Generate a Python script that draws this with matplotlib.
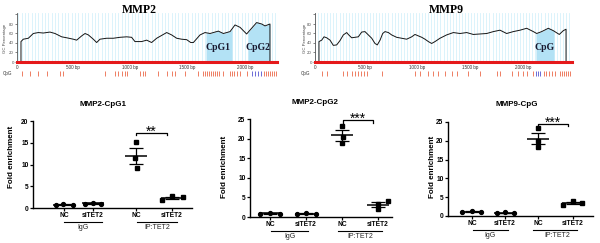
import numpy as np
import matplotlib
matplotlib.use("Agg")
import matplotlib.pyplot as plt
from matplotlib.lines import Line2D

W, H = 600, 243

# ---------------- data: GC content tracks ----------------
mmp2_bp = [52, 72, 116, 159, 203, 246, 304, 348, 406, 449, 507, 536, 580, 609, 638, 681, 710, 739, 797, 855,
           913, 971, 1014, 1043, 1101, 1145, 1188, 1232, 1290, 1319, 1362, 1406, 1449, 1493, 1528, 1551, 1609,
           1652, 1696, 1768, 1812, 1870, 1913, 1957, 2014, 2043, 2101, 2145, 2174, 2217]
mmp2_gc = [43, 48, 50, 60, 62, 61, 63, 60, 53, 51, 48, 46, 55, 60, 57, 48, 41, 48, 50, 50,
           52, 53, 52, 43, 43, 46, 41, 50, 58, 62, 57, 50, 48, 47, 41, 41, 57,
           62, 60, 65, 60, 64, 78, 73, 59, 67, 83, 80, 76, 80]
mmp2_islands = [(1661, 1887), (2026, 2217)]
mmp2_island_names = ["CpG1", "CpG2"]
mmp2_cpg = [61, 130, 200, 278, 391, 417, 783, 870, 896, 930, 957, 974, 1087, 1113, 1130, 1243, 1322, 1365,
            1391, 1478, 1591, 1635, 1652, 1670, 1687, 1704, 1722, 1739, 1757, 1774, 1809, 1870, 1887, 1904,
            1930, 1957, 2017, 2061, 2087, 2113, 2139, 2165, 2183, 2200, 2217, 2235, 2252, 2270]

mmp9_bp = [66, 92, 114, 139, 171, 202, 234, 265, 297, 329, 344, 376, 408, 439, 471, 502, 534, 566, 597, 619,
           645, 670, 692, 724, 755, 802, 850, 897, 945, 976, 1008, 1040, 1071, 1103, 1134, 1166, 1213, 1276,
           1340, 1403, 1466, 1529, 1592, 1656, 1719, 1782, 1845, 1908, 1972, 2035, 2098, 2130, 2177, 2240,
           2287, 2344, 2382, 2408]
mmp9_gc = [43, 46, 53, 51, 46, 35, 36, 45, 57, 62, 58, 51, 52, 53, 63, 64, 57, 50, 39, 36,
           46, 60, 64, 62, 57, 52, 50, 48, 53, 58, 55, 52, 48, 43, 39, 43, 50, 57,
           62, 60, 62, 58, 59, 60, 64, 67, 60, 64, 67, 71, 64, 60, 64, 71,
           66, 58, 66, 69]
mmp9_islands = [(2123, 2294)]
mmp9_island_names = ["CpG"]
mmp9_cpg = [95, 142, 294, 332, 379, 408, 436, 464, 493, 521, 664, 976, 1024, 1100, 1147, 1194, 1261, 1327,
            1374, 1479, 1592, 1754, 1782, 1896, 1953, 2000, 2038, 2095, 2123, 2142, 2161, 2199, 2218, 2246,
            2275, 2303, 2351, 2370, 2389, 2408, 2427, 2445]

bp_ticks = [500, 1000, 1500, 2000]
bp_labels = ["500 bp", "1000 bp", "1500 bp", "2000 bp"]

# ---------------- data: ChIP fold enrichment ----------------
cat_labels = ["NC", "siTET2", "NC", "siTET2"]
group_labels = ["IgG", "IP:TET2"]

cpg1_igg_nc = [0.77, 0.85, 0.77]
cpg1_igg_si = [1.00, 1.15, 1.00]
cpg1_ip_nc = [15.2, 11.4, 9.2]
cpg1_ip_si = [1.9, 2.7, 2.5]

cpg2_igg_nc = [0.86, 1.03, 0.86]
cpg2_igg_si = [0.68, 1.03, 0.68]
cpg2_ip_nc = [23.3, 20.3, 18.8]
cpg2_ip_si = [3.4, 2.1, 4.0]

mmp9_igg_nc = [0.97, 1.33, 1.06]
mmp9_igg_si = [0.71, 0.97, 0.80]
mmp9_ip_nc = [23.4, 19.9, 18.4]
mmp9_ip_si = [2.9, 4.0, 3.4]

titles = ["MMP2-CpG1", "MMP2-CpG2", "MMP9-CpG"]
sig_marks = ["**", "***", "***"]
y_max = [20, 25, 25]

# ---------------- drawing ----------------
plt.rcParams['font.family'] = ['Liberation Sans', 'DejaVu Sans']
fig = plt.figure(figsize=(6, 2.43), dpi=100)


def px_axes(l, t, r, b):
    return fig.add_axes([l / W, 1 - b / H, (r - l) / W, (b - t) / H])


def ftext(x, y, s, **kw):
    return fig.text(x / W, 1 - y / H, s, **kw)


def fline(x1, x2, y, lw=0.8, color='black'):
    fig.add_artist(Line2D([x1 / W, x2 / W], [1 - y / H, 1 - y / H], transform=fig.transFigure,
                          lw=lw, color=color))


def gc_panel(l, t, r, b, x0px, scale, bp, gc, islands, names, name_pos, cpg, blue_rng,
             title, title_xy, ylab_x):
    ax = px_axes(l, t, r, b)
    pxpct = 0.475
    xmin = (l - x0px) / scale
    xmax = (r - x0px) / scale
    ax.set_xlim(xmin, xmax)
    ax.set_ylim(0, (b - t) / pxpct)
    for v in np.arange(0, xmax, 29):
        ax.axvline(v, color='#d6f1fb', lw=0.6, zorder=0)
    for (a, c) in islands:
        xx = np.linspace(a, c, 80)
        yy = np.interp(xx, bp, gc)
        ax.fill_between(xx, 0, yy, color='#b3e2f5', lw=0, zorder=1)
    ax.plot([bp[0]] + bp + [bp[-1]], [0] + gc + [0], color='#151515', lw=0.7, zorder=2)
    for nm, (xb, yp) in zip(names, name_pos):
        ax.text(xb, yp, nm, ha='center', va='center', family='Liberation Serif', weight='bold',
                fontsize=7, color='#1a1a30', zorder=4)
    ax.axhline(0, color='#e5191b', lw=2.2, zorder=3, clip_on=False)
    for s in ['top', 'right', 'bottom']:
        ax.spines[s].set_visible(False)
    ax.spines['left'].set_color('#555555')
    ax.spines['left'].set_linewidth(0.6)
    ax.set_yticks([0, 20, 40, 60, 80, 100])
    ax.set_yticklabels(['0', '20', '40', '60', '80', ''])
    ax.tick_params(axis='y', labelsize=3.2, colors='#555555', length=1.5, width=0.5, pad=0.8)
    ax.set_xticks([xmin] + bp_ticks)
    ax.set_xticklabels(['0'] + bp_labels)
    ax.tick_params(axis='x', labelsize=3.3, colors='#333333', length=0, pad=2.2)
    cols = ['#6b6bd6' if blue_rng[0] <= c <= blue_rng[1] else '#ee7d62' for c in cpg]
    ax.vlines(cpg, -0.18, -0.29, transform=ax.get_xaxis_transform(), colors=cols, lw=0.7,
              clip_on=False)
    ftext(title_xy[0], title_xy[1], title, ha='center', va='center', family='Liberation Serif',
          weight='bold', fontsize=8.5)
    ftext(ylab_x, 38, 'GC Percentage', rotation=90, ha='center', va='center', fontsize=3.1,
          color='#444444')
    ftext(l - 14, 73.5, 'CpG', ha='left', va='center', fontsize=3.3, color='#333333')
    return ax


gc_panel(17, 13, 277, 62, 15, 0.115, mmp2_bp, mmp2_gc, mmp2_islands, mmp2_island_names,
         [(1765, 29.5), (2113, 29.5)], mmp2_cpg, (2050, 2145), "MMP2", (139, 10), 5)
gc_panel(315, 13, 572, 62, 312, 0.1055, mmp9_bp, mmp9_gc, mmp9_islands, mmp9_island_names,
         [(2209, 31.5)], mmp9_cpg, (2120, 2180), "MMP9", (446, 10), 305)

panels = [
    dict(box=(33, 121, 192, 208), data=[cpg1_igg_nc, cpg1_igg_si, cpg1_ip_nc, cpg1_ip_si],
         centers=[64, 93, 136, 172], offs=[[-8, -1, 9], [-8, 0, 8], [0, -1, 1], [-10, 0, 11]],
         bracket=(136, 167, 17.3, 0.5), star_y=16.7, title_xy=(103, 105), ylab=(12, 157),
         glines=[(64, 102), (137, 177)], gtext=[83, 157]),
    dict(box=(250, 119, 392, 217), data=[cpg2_igg_nc, cpg2_igg_si, cpg2_ip_nc, cpg2_ip_si],
         centers=[270, 306, 342, 378], offs=[[-10, 0, 10], [-9, 0, 10], [0, 1, 0], [0, 0, 10]],
         bracket=(343, 373, 24.8, 0.7), star_y=24.05, title_xy=(315, 103), ylab=(225, 167),
         glines=[(271, 308), (338, 382)], gtext=[290, 360]),
    dict(box=(448, 122, 593, 216), data=[mmp9_igg_nc, mmp9_igg_si, mmp9_ip_nc, mmp9_ip_si],
         centers=[472, 505, 538, 573], offs=[[-10, 0, 9], [-8, 0, 9], [0, 0, 0], [-10, 0, 9]],
         bracket=(538, 568, 24.6, 0.7), star_y=23.8, title_xy=(517, 105), ylab=(432, 167),
         glines=[(473, 508), (533, 577)], gtext=[490, 557]),
]

for i, p in enumerate(panels):
    l, t, r, b = p['box']
    ax = px_axes(l, t, r, b)
    ax.set_xlim(l, r)
    ax.set_ylim(0, y_max[i])
    for s in ['top', 'right']:
        ax.spines[s].set_visible(False)
    for s in ['left', 'bottom']:
        ax.spines[s].set_linewidth(1.0)
    ax.set_yticks(np.arange(0, y_max[i] + 1, 5))
    ax.set_xticks(p['centers'])
    ax.set_xticklabels(cat_labels)
    ax.tick_params(axis='both', labelsize=4.8, length=2, width=0.9, pad=1.2)
    for lab in ax.get_xticklabels() + ax.get_yticklabels():
        lab.set_fontweight('bold')
    for j, vals in enumerate(p['data']):
        c = p['centers'][j]
        xs = c + np.array(p['offs'][j])
        mk = 'o' if j < 2 else 's'
        ms = 2.8 if j < 2 else 3.1
        m = np.mean(vals)
        se = np.std(vals, ddof=1) / np.sqrt(len(vals))
        ax.hlines(m, c - 11, c + 11, color='black', lw=1.1, clip_on=False)
        ax.vlines(c, m - se, m + se, color='black', lw=0.9, clip_on=False)
        ax.hlines([m - se, m + se], c - 7, c + 7, color='black', lw=0.9, clip_on=False)
        ax.plot(xs, vals, ls='none', marker=mk, ms=ms, color='black', clip_on=False, zorder=3)
    x1, x2, yb, dy = p['bracket']
    ax.plot([x1, x1, x2, x2], [yb - dy, yb, yb, yb - dy], color='black', lw=0.9, clip_on=False)
    ax.text((x1 + x2) / 2, p['star_y'], sig_marks[i], ha='center', va='baseline', fontsize=10,
            clip_on=False)
    ftext(p['title_xy'][0], p['title_xy'][1], titles[i], ha='center', va='center',
          weight='bold', fontsize=5.8)
    ftext(p['ylab'][0], p['ylab'][1], 'Fold enrichment', rotation=90, ha='center', va='center',
          weight='bold', fontsize=5.8)
    for (g1, g2), gx, gl in zip(p['glines'], p['gtext'], group_labels):
        fline(g1, g2, b + 13.5, lw=0.8)
        ftext(gx, b + 19.5, gl, ha='center', va='center', fontsize=5, color='#222222')

fig.savefig('out.png', dpi=100)
